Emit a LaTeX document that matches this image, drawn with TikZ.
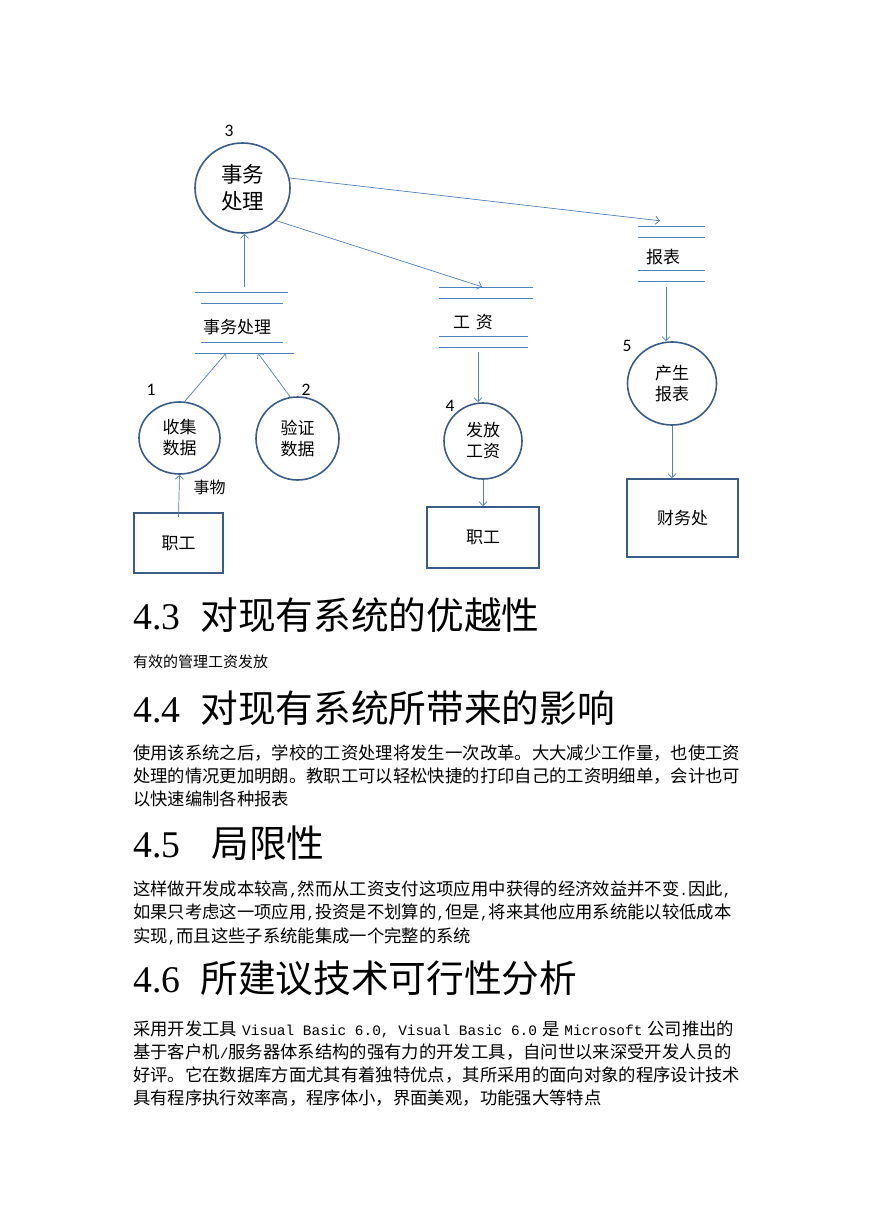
\documentclass[tikz,border=0pt]{standalone}
\usepackage{fontspec}
\setmainfont{Noto Sans CJK SC}
\newfontfamily\zahlfont{Carlito}
\newfontfamily\lateinserif{Liberation Serif}
\newfontfamily\lateinmono{Liberation Mono}
\usetikzlibrary{shapes.geometric,arrows.meta,positioning}
\definecolor{formblau}{RGB}{56,93,138}
\definecolor{linienblau}{RGB}{79,129,189}
\newcommand{\zhtext}{\fontsize{17}{21}\selectfont}
\newcommand{\hw}[1]{{\lateinmono\fontsize{14.45}{20}\selectfont #1}}
\newcommand{\titelnr}[1]{{\lateinserif #1}}

\begin{document}
\begin{tikzpicture}[
    x=1pt,y=-1pt,
    prozess/.style={ellipse,draw=formblau,line width=1.6pt,inner sep=0pt,
                    align=center,font=\zhtext},
    einheit/.style={rectangle,draw=formblau,line width=1.6pt,inner sep=0pt,
                    font=\zhtext},
    speicher/.style={rectangle,inner sep=0pt},
    speicherlinie/.style={draw=linienblau,line width=0.9pt},
    beschrift/.style={inner sep=0pt,font=\zhtext},
    nummer/.style={inner sep=0pt,font=\zahlfont\fontsize{17.5}{17.5}\selectfont},
    pfeil/.style={-{Straight Barb[length=4pt,width=8pt]},draw=linienblau,line width=0.7pt},
    titel/.style={anchor=base west,inner sep=0pt,font=\fontsize{37.7}{40}\selectfont},
    absatz/.style={anchor=base west,inner sep=0pt,font=\fontsize{17.34}{20}\selectfont}
]
\path[use as bounding box,fill=white] (0,0) rectangle (869,1228);

% Prozesse
\node[prozess,minimum width=95pt,minimum height=90pt,
      font=\fontsize{21.5}{27}\selectfont] (p3) at (242.5,188) {事务\\处理};
\node[prozess,minimum width=81pt,minimum height=72pt] (p1) at (179.5,438) {收集\\数据};
\node[prozess,minimum width=83pt,minimum height=83pt] (p2) at (297.5,438.5) {验证\\数据};
\node[prozess,minimum width=78pt,minimum height=76pt] (p4) at (483,441) {发放\\工资};
\node[prozess,minimum width=89pt,minimum height=83pt] (p5) at (672,383.5) {产生\\报表};

\node[nummer] (n3) at (229,131) {3};
\node[nummer] (n1) at (151,390) {1};
\node[nummer] (n2) at (306,390) {2};
\node[nummer] (n4) at (450,406) {4};
\node[nummer] (n5) at (627,346) {5};

% externe Einheiten
\node[einheit,minimum width=89pt,minimum height=60pt] (zk1) at (178.5,543) {职工};
\node[einheit,minimum width=112pt,minimum height=61pt] (zk2) at (483,537.5) {职工};
\node[einheit,minimum width=111pt,minimum height=78pt] (fin) at (682.5,518) {财务处};

% Datenspeicher
\node[speicher,minimum width=99pt,minimum height=61pt] (ds1) at (244.5,322.5) {};
\node[beschrift] (ds1t) at (237,327.5) {事务处理};
\draw[speicherlinie] (195,292) -- (288,292) (201,303) -- (283,303)
                     (201,342) -- (283,342) (195,353) -- (294,353);

\node[speicher,minimum width=94pt,minimum height=60pt] (ds2) at (486,317) {};
\node[beschrift] (ds2t) at (473,322.5) {工\hspace{6pt}资};
\draw[speicherlinie] (439,287) -- (533,287) (439,298) -- (533,298)
                     (439,336) -- (528,336) (439,347) -- (528,347);

\node[speicher,minimum width=67pt,minimum height=55pt] (ds3) at (671.5,253.5) {};
\node[beschrift] (ds3t) at (663,257) {报表};
\draw[speicherlinie] (638,226) -- (705,226) (638,237) -- (705,237)
                     (638,270) -- (705,270) (638,281) -- (705,281);

% Datenfluesse
\draw[pfeil] ([yshift=5pt]ds1.north) -- (ds1.north |- p3.south);
\draw[pfeil] (p3.12) -- ([xshift=-11.5pt,yshift=5pt]ds3.north);
\draw[pfeil] (p3.-44) -- ([xshift=-4pt]ds2.north);
\draw[pfeil] ([xshift=-8pt,yshift=-5pt]ds2.south) -- ([xshift=-5pt]p4.north);
\draw[pfeil] (p4) -- (zk2);
\draw[pfeil] ([xshift=-5.5pt,yshift=-6pt]ds3.south) -- ([xshift=-6pt]p5.north);
\draw[pfeil] (p5.south) -- (p5.south |- fin.north);
\draw[pfeil] (p1.82) -- ([xshift=-18.5pt]ds1.south);
\draw[pfeil] (p2.100) -- ([xshift=13.5pt]ds1.south);
\draw[pfeil] ([yshift=-5pt]zk1.north) -- (p1.south)
    node[pos=0.7,right=14pt,inner sep=0pt,font=\fontsize{16}{16}\selectfont] (ding) {事物};

% Text
\node[titel] (h43) at (133,629) {\titelnr{4.3}\hspace{20pt}对现有系统的优越性};
\node[absatz,font=\fontsize{15}{18}\selectfont] (t43) at (133,667) {有效的管理工资发放};

\node[titel] (h44) at (133,722) {\titelnr{4.4}\hspace{20pt}对现有系统所带来的影响};
\node[absatz] (t44a) at (133,759) {使用该系统之后，学校的工资处理将发生一次改革。大大减少工作量，也使工资};
\node[absatz] (t44b) at (133,782) {处理的情况更加明朗。教职工可以轻松快捷的打印自己的工资明细单，会计也可};
\node[absatz] (t44c) at (133,805) {以快速编制各种报表};

\node[titel] (h45) at (133,857) {\titelnr{4.5}\hspace{31pt}局限性};
\node[absatz] (t45a) at (133,895) {这样做开发成本较高\hw{,}然而从工资支付这项应用中获得的经济效益并不变\hw{.}因此\hw{,}};
\node[absatz] (t45b) at (133,918) {如果只考虑这一项应用\hw{,}投资是不划算的\hw{,}但是\hw{,}将来其他应用系统能以较低成本};
\node[absatz] (t45c) at (133,942) {实现\hw{,}而且这些子系统能集成一个完整的系统};

\node[titel] (h46) at (133,992) {\titelnr{4.6}\hspace{20pt}所建议技术可行性分析};
\node[absatz] (t46a) at (133,1035) {采用开发工具\hspace{5pt}\hw{Visual Basic 6.0, Visual Basic 6.0}\hspace{5pt}是\hspace{5pt}\hw{Microsoft}\hspace{5pt}公司推出的};
\node[absatz] (t46b) at (133,1058) {基于客户机\hw{/}服务器体系结构的强有力的开发工具，自问世以来深受开发人员的};
\node[absatz] (t46c) at (133,1081) {好评。它在数据库方面尤其有着独特优点，其所采用的面向对象的程序设计技术};
\node[absatz] (t46d) at (133,1104) {具有程序执行效率高，程序体小，界面美观，功能强大等特点};
\end{tikzpicture}
\end{document}
